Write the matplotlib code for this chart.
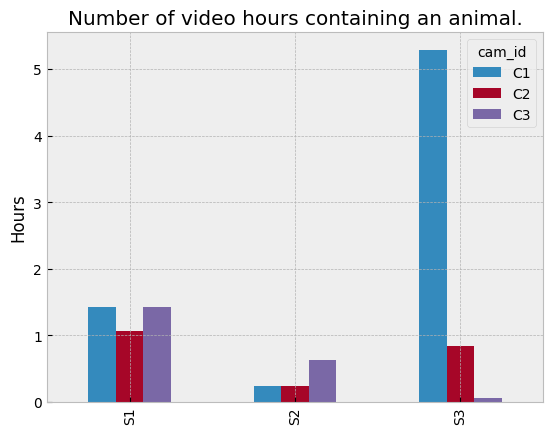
import pandas as pd
import matplotlib
matplotlib.use("Agg")
import matplotlib.pyplot as plt

plt.style.use("bmh")

sites = ["S1", "S2", "S3"]
c1 = [1.42, 0.23, 5.29]
c2 = [1.06, 0.23, 0.845]
c3 = [1.42, 0.635, 0.05]

df = pd.DataFrame({"C1": c1, "C2": c2, "C3": c3}, index=sites)
df.columns.name = "cam_id"

fig, ax = plt.subplots(figsize=(5.53, 4.35), dpi=100)
df.plot(kind="bar", ax=ax)
ax.set_title("Number of video hours containing an animal.")
ax.set_ylabel("Hours")
ax.set_xlabel("")
fig.subplots_adjust(left=0.085, right=0.982, bottom=0.074, top=0.924)
fig.savefig("out.png", dpi=100)
